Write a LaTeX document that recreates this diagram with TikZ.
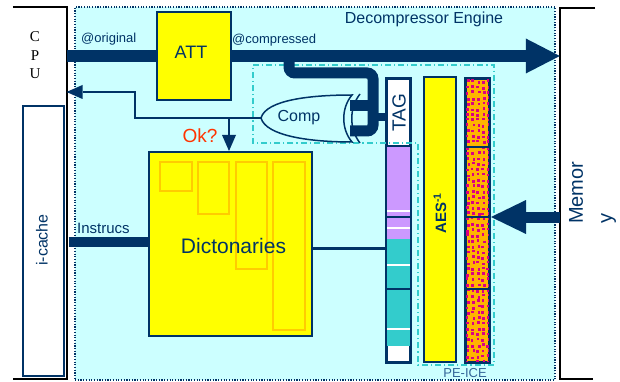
\documentclass[tikz,border=0pt]{standalone}
\usepackage{fontspec}
\setmainfont{Liberation Sans}
\newfontfamily\timesfont{Liberation Serif}
\usetikzlibrary{arrows.meta}
\definecolor{dblue}{HTML}{003366}
\definecolor{bgcyan}{HTML}{CCFFFF}
\definecolor{dyel}{HTML}{FFFF00}
\definecolor{dorange}{HTML}{FFCC00}
\definecolor{lav}{HTML}{CC99FF}
\definecolor{teal2}{HTML}{33CCCC}
\definecolor{okred}{HTML}{FF3300}
\definecolor{patorange}{HTML}{FFB400}
\definecolor{patmag}{HTML}{DC0082}
\definecolor{pelbl}{HTML}{336699}
\begin{document}
\begin{tikzpicture}[x=1pt,y=-1pt,
  lbl/.style={text=dblue, inner sep=0pt},
  bus/.style={draw=dblue, line width=12pt},
  thinarr/.style={draw=dblue, line width=2pt, -{Triangle[length=16pt, width=14pt, line width=0pt]}},
  dashdot/.style={draw=teal2, line width=1.5pt, dash pattern=on 6pt off 3pt on 1.2pt off 3pt},
  colbox/.style={draw=dblue, line width=2pt, inner sep=0pt},
  frame/.style={draw=none, inner sep=0pt},
]
\useasboundingbox (0,0) rectangle (620,382);

% Decompressor engine background
\node[fill=bgcyan, draw=dblue, line width=1.2pt, dash pattern=on 1.2pt off 1.5pt,
      minimum width=480pt, minimum height=373pt, inner sep=0pt] (eng) at (315,193.5) {};
\node[lbl, font=\fontsize{16}{19}\selectfont, anchor=base] (englbl) at (424,24) {Decompressor Engine};

% CPU
\node[frame, minimum width=53.5pt, minimum height=371.5pt] (cpu) at (39.75,193.25) {};
\draw[line width=1.8pt, black] (cpu.north west) -- (cpu.north east) -- (cpu.south east) -- (cpu.south west);
\node[font=\timesfont\fontsize{15}{18.5}\selectfont, align=center, inner sep=0pt] (cpulbl) at (35,55.5) {C\\P\\U};

% i-cache
\node[colbox, fill=white, minimum width=41pt, minimum height=270pt] (icache) at (43.5,241) {};
\node[lbl, rotate=90, font=\fontsize{16}{19}\selectfont] (icachelbl) at (42,240) {i-cache};

% Memory
\node[frame, minimum width=35pt, minimum height=371pt] (mem) at (577.5,193.5) {};
\draw[line width=1.8pt, black] (mem.north east) -- (mem.north west) -- (mem.south west) -- ([xshift=-2pt]mem.south east);
\node[lbl, rotate=90, align=left, anchor=north west, font=\fontsize{20}{29}\selectfont] (memlbl) at (569,224) {Memor\\y};

% ATT
\node[draw=dblue, line width=1.5pt, fill=dyel, inner sep=0pt, minimum width=74pt, minimum height=88pt] (att) at (194,56) {};
\node[lbl, font=\fontsize{18}{22}\selectfont] (attlbl) at (191,52.5) {ATT};

% labels on the bus
\node[lbl, font=\fontsize{13}{16}\selectfont, anchor=base west] (orig) at (81,43) {@original};
\node[lbl, font=\fontsize{13}{16}\selectfont, anchor=base west] (compr) at (232,44) {@compressed};

% Dictionaries
\node[colbox, fill=dyel, minimum width=163pt, minimum height=184pt] (dict) at (230.5,244) {};
\draw[dorange, line width=1.5pt] (160,162) rectangle (192,191);
\draw[dorange, line width=1.5pt] (198,162) rectangle (229,214);
\draw[dorange, line width=1.5pt] (236,162) rectangle (267,269);
\draw[dorange, line width=1.5pt] (273,162) rectangle (305,330);
\node[lbl, font=\fontsize{21}{25}\selectfont, anchor=base] (dictlbl) at (233.5,253) {Dictonaries};

% TAG column
\node[colbox, fill=white, minimum width=23pt, minimum height=283pt] (tagcol) at (398.5,220.5) {};
\fill[lav] (387,146) rectangle (410,239);
\fill[teal2] (387,239) rectangle (410,346);
\foreach \yy in {211,228,265,329} \draw[white, line width=1.2pt] (387,\yy) -- (410,\yy);
\foreach \yy in {146,217,289} \draw[dblue, line width=1.5pt] (387,\yy) -- (410,\yy);
\draw[dblue, line width=2pt] (tagcol.north west) rectangle (tagcol.south east);
\node[lbl, rotate=90, font=\fontsize{19}{23}\selectfont] (taglbl) at (399,113) {TAG};

% AES column
\node[colbox, fill=dyel, minimum width=32pt, minimum height=285pt] (aes) at (440,219.5) {};
\node[lbl, rotate=90, font=\bfseries\fontsize{15}{18}\selectfont] (aeslbl) at (440,213) {AES\textsuperscript{-1}};

% Pattern column
\node[colbox, fill=patorange, minimum width=23pt, minimum height=283pt] (pat) at (477.5,220.5) {};
\begin{scope}
\clip (466,79) rectangle (489,362);
\pgfmathsetseed{7}
\foreach \i in {0,...,4}{
  \foreach \j in {0,...,52}{
    \pgfmathsetmacro{\px}{465.5+\i*5.2+rnd*2.2}
    \pgfmathsetmacro{\py}{79+\j*5.5+rnd*2.5}
    \fill[patmag] (\px,\py) rectangle ++(2.7,2.7);
  }
}
\end{scope}
\foreach \yy in {147,217,289} \draw[dblue, line width=1.5pt] (466,\yy) -- (489,\yy);
\draw[dblue, line width=2pt] (pat.north west) rectangle (pat.south east);

% PE-ICE dash-dot outline
\draw[dashdot] (253,65) -- (494,65) -- (494,365) -- (418,365) -- (418,143) -- (253,143) -- cycle;
\node[inner sep=0pt, text=pelbl, font=\fontsize{13}{16}\selectfont] (pelabel) at (465,373) {PE-ICE};

% Comp gate
\coordinate (gtip) at (261,118);
\coordinate (gin1) at (350,106);
\coordinate (gin2) at (350,131);
\filldraw[fill=bgcyan, draw=dblue, line width=1.5pt]
  (gtip) .. controls (266,100) and (310,95) .. (352,95)
  .. controls (341,108) and (341,129) .. (352,142)
  .. controls (310,142) and (266,136) .. (gtip) -- cycle;
\draw[dblue, line width=1.5pt] (360,94) .. controls (349,108) and (349,129) .. (360,143);
\node[lbl, font=\fontsize{16}{19}\selectfont] (comp) at (299,118) {Comp};

% bus
\draw[bus] (cpu.east |- att.west) -- (att.west);
\draw[bus, -{Triangle[length=34pt, width=35pt, line width=0pt]}] (att.east) -- (mem.west |- att.east);

% branch from bus into comparator
\draw[draw=dblue, line width=11pt, rounded corners=6pt] (289,56) -- (289,73) -- (373,73) -- (373,131) -- (gin2);
\draw[draw=dblue, line width=11pt] (373,106) -- (gin1);
\draw[draw=dblue, line width=8pt] (373,117) -- (tagcol.west |- 0,117);

% return path to CPU and Ok arrow
\coordinate (okTop) at (229,118);
\coordinate (cpuRet) at (66.5,92);
\draw[thinarr] (gtip) -- (135,118) -- (135,92) -- (cpuRet);
\draw[thinarr] (okTop) -- (okTop |- dict.north);
\node[inner sep=0pt, text=okred, font=\fontsize{19}{23}\selectfont] (oklbl) at (200,135.5) {Ok?};

% Instructions bus
\coordinate (instrL) at (68.5,242);
\draw[draw=dblue, line width=10pt] (instrL) -- (dict.west |- instrL);
\node[lbl, font=\fontsize{15}{18}\selectfont, anchor=base west] (instrlbl) at (77,233) {Instrucs};

% dictionary to column
\draw[dblue, line width=3pt] (dict.east |- 0,248) -- (tagcol.west |- 0,248);

% memory input arrow
\coordinate (memTip) at (491,217);
\draw[draw=dblue, line width=11pt, -{Triangle[length=35pt, width=34pt, line width=0pt]}] (mem.west |- memTip) -- (memTip);
\end{tikzpicture}
\end{document}
